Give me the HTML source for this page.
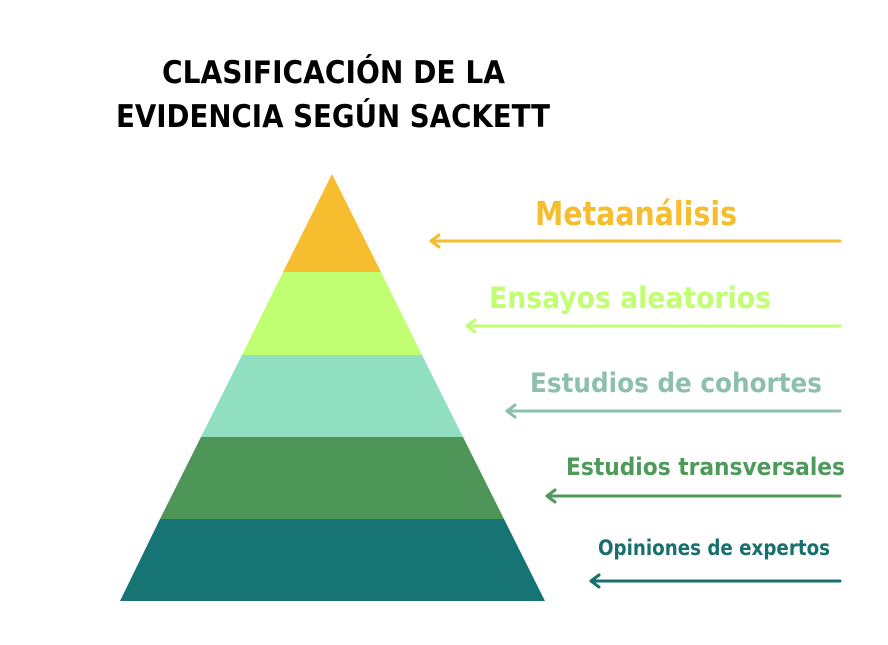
<!DOCTYPE html>
<html><head><meta charset="utf-8"><style>html,body{margin:0;padding:0;background:#fff}svg{display:block}</style></head>
<body>
<svg width="888" height="645" viewBox="0 0 888 645" xmlns="http://www.w3.org/2000/svg" font-family="'DejaVu Sans','Liberation Sans',sans-serif" font-weight="bold">
<text x="162" y="83" font-size="31" textLength="343" lengthAdjust="spacingAndGlyphs" fill="#000">CLASIFICACIÓN DE LA</text>
<text x="116" y="127" font-size="31" textLength="434" lengthAdjust="spacingAndGlyphs" fill="#000">EVIDENCIA SEGÚN SACKETT</text>
<polygon points="332,174 381,272 283,272" fill="#F6BE2F"/>
<polygon points="283,272 381,272 422,355 242,355" fill="#C1FF72"/>
<polygon points="242,355 422,355 463,437 201,437" fill="#8FDFC0"/>
<polygon points="201,437 463,437 504,519 160,519" fill="#4E9558"/>
<polygon points="160,519 504,519 545,601 120,601" fill="#177474"/>
<g fill="none" stroke-width="3" stroke-linecap="round" stroke-linejoin="round">
<g stroke="#F6BE2F"><line x1="431" y1="241" x2="840" y2="241"/><polyline points="439,235 431,241 439,247"/></g>
<g stroke="#C1FF72"><line x1="467" y1="326" x2="840" y2="326"/><polyline points="475,320 467,326 475,332"/></g>
<g stroke="#8CBFB0"><line x1="507" y1="411" x2="840" y2="411"/><polyline points="515,405 507,411 515,417"/></g>
<g stroke="#4E9A5A"><line x1="547" y1="496" x2="840" y2="496"/><polyline points="555,490 547,496 555,502"/></g>
<g stroke="#176F6E"><line x1="591" y1="581" x2="840" y2="581"/><polyline points="599,575 591,581 599,587"/></g>
</g>
<text x="535" y="225" font-size="33" textLength="202" lengthAdjust="spacingAndGlyphs" fill="#F6BE2F">Metaanálisis</text>
<text x="489" y="308" font-size="29" textLength="282" lengthAdjust="spacingAndGlyphs" fill="#C1FF72">Ensayos aleatorios</text>
<text x="530" y="392" font-size="27" textLength="292" lengthAdjust="spacingAndGlyphs" fill="#8CBFB0">Estudios de cohortes</text>
<text x="566" y="475" font-size="24" textLength="279" lengthAdjust="spacingAndGlyphs" fill="#4E9A5A">Estudios transversales</text>
<text x="598" y="555" font-size="21" textLength="232" lengthAdjust="spacingAndGlyphs" fill="#176F6E">Opiniones de expertos</text>
</svg>
</body></html>
